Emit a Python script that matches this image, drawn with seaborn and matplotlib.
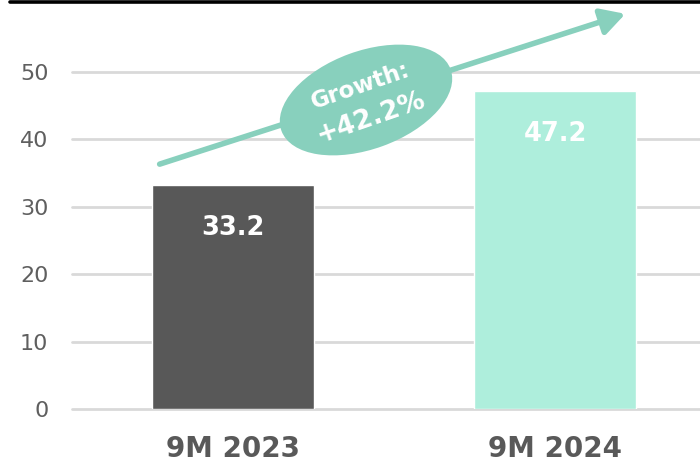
import matplotlib
matplotlib.use("Agg")
import matplotlib.pyplot as plt
from matplotlib.patches import Ellipse, FancyArrowPatch
from matplotlib.lines import Line2D
from matplotlib.transforms import IdentityTransform
import seaborn as sns
import pandas as pd

periods = ["9M 2023", "9M 2024"]
values = [33.2, 47.2]
bar_colors = ["#585858", "#aeeedc"]
y_ticks = [0, 10, 20, 30, 40, 50]
growth_label = "Growth:"
growth_value = "+42.2%"

W, H = 700, 463
sns.set_theme(style="white")
plt.rcParams["font.family"] = ["DejaVu Sans"]

fig = plt.figure(figsize=(W / 100, H / 100), dpi=100)
ax = fig.add_axes([72 / W, 54 / H, 628 / W, 409 / H])

df = pd.DataFrame({"period": periods, "value": values})
sns.barplot(data=df, x="period", y="value", hue="period", palette=bar_colors,
            width=0.503, saturation=1, legend=False, ax=ax, zorder=3)

ax.set_xlim(-0.5, 1.45)
ax.set_ylim(0, 60.68)
ax.set_yticks(y_ticks)
ax.set_xlabel("")
ax.set_ylabel("")
for s in ax.spines.values():
    s.set_visible(False)
ax.yaxis.grid(True, color="#d9d9d9", linewidth=2)
for gl in ax.get_ygridlines():
    gl.set_clip_on(False)
ax.set_axisbelow(True)
ax.tick_params(axis="y", length=0, pad=17, labelsize=16, labelcolor="#5f5f5f")
ax.tick_params(axis="x", length=0, pad=19, labelsize=20, labelcolor="#595959")
for lbl in ax.get_xticklabels():
    lbl.set_fontweight("bold")

# value labels inside the bars
for i, v in enumerate(values):
    ax.annotate(f"{v:.1f}", xy=(i, v), xytext=(0, -31), textcoords="offset points",
                ha="center", va="center", color="white", fontsize=18.5, fontweight="bold",
                zorder=5)

# thick rule along the top edge
fig.add_artist(Line2D([10 / W, 1], [1 - 1.7 / H, 1 - 1.7 / H], color="black",
                      linewidth=2.6, transform=fig.transFigure))

def px(x, y):
    return (x, H - y)

teal = "#88d0bd"
arrow = FancyArrowPatch(px(157, 165), px(628, 13), transform=IdentityTransform(),
                        arrowstyle="-|>,head_length=0.9,head_width=0.5",
                        mutation_scale=16, color=teal, linewidth=4, zorder=4)
fig.add_artist(arrow)

ell = Ellipse(px(366, 100), width=180, height=98, angle=20, facecolor=teal,
              edgecolor="none", transform=IdentityTransform(), zorder=5)
fig.add_artist(ell)

fig.text(360 / W, 1 - 86 / H, growth_label, rotation=19, ha="center", va="center",
         color="white", fontsize=16.5, fontweight="bold", rotation_mode="anchor", zorder=6)
fig.text(371 / W, 1 - 118 / H, growth_value, rotation=19, ha="center", va="center",
         color="white", fontsize=19, fontweight="bold", rotation_mode="anchor", zorder=6)

fig.savefig("out.png", dpi=100)
